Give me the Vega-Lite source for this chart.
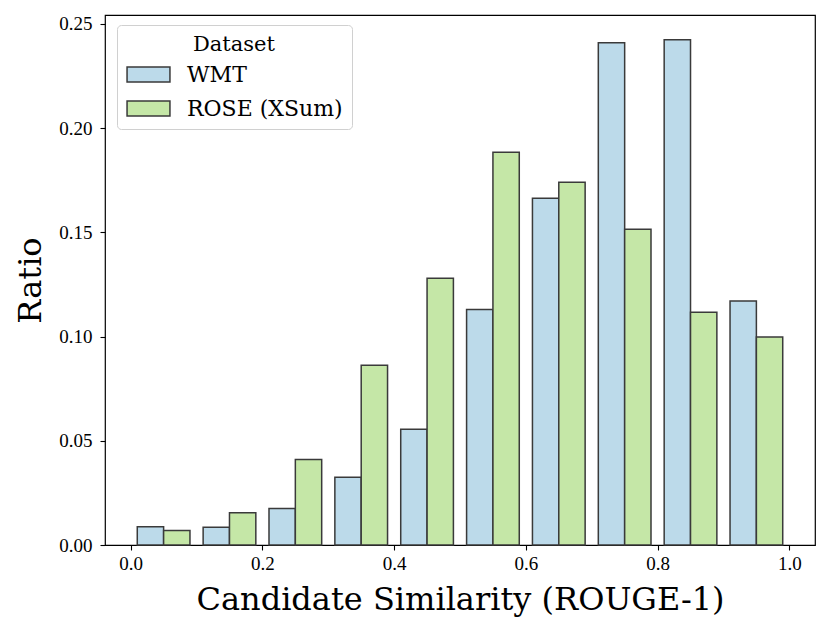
{
  "$schema": "https://vega.github.io/schema/vega-lite/v6.json",
  "width": 710,
  "height": 530,
  "autosize": "none",
  "padding": {"left": 105, "top": 15, "right": 16, "bottom": 88},
  "background": "white",
  "config": {
    "font": "DejaVu Serif",
    "view": {"stroke": "black", "strokeWidth": 1.2},
    "axis": {
      "grid": false,
      "domain": false,
      "tickColor": "black",
      "tickSize": 5,
      "tickWidth": 1.1,
      "labelColor": "black",
      "labelFont": "Liberation Serif",
      "labelFontSize": 19,
      "titleFont": "DejaVu Serif",
      "titleFontSize": 32,
      "titleFontWeight": "normal",
      "titleColor": "black"
    }
  },
  "data": {
    "values": [
      {"bin": 0.0, "dataset": "WMT", "ratio": 0.0088},
      {"bin": 0.0, "dataset": "ROSE (XSum)", "ratio": 0.0070},
      {"bin": 0.1, "dataset": "WMT", "ratio": 0.0085},
      {"bin": 0.1, "dataset": "ROSE (XSum)", "ratio": 0.0155},
      {"bin": 0.2, "dataset": "WMT", "ratio": 0.0175},
      {"bin": 0.2, "dataset": "ROSE (XSum)", "ratio": 0.0410},
      {"bin": 0.3, "dataset": "WMT", "ratio": 0.0325},
      {"bin": 0.3, "dataset": "ROSE (XSum)", "ratio": 0.0862},
      {"bin": 0.4, "dataset": "WMT", "ratio": 0.0555},
      {"bin": 0.4, "dataset": "ROSE (XSum)", "ratio": 0.1280},
      {"bin": 0.5, "dataset": "WMT", "ratio": 0.1130},
      {"bin": 0.5, "dataset": "ROSE (XSum)", "ratio": 0.1884},
      {"bin": 0.6, "dataset": "WMT", "ratio": 0.1664},
      {"bin": 0.6, "dataset": "ROSE (XSum)", "ratio": 0.1740},
      {"bin": 0.7, "dataset": "WMT", "ratio": 0.2410},
      {"bin": 0.7, "dataset": "ROSE (XSum)", "ratio": 0.1515},
      {"bin": 0.8, "dataset": "WMT", "ratio": 0.2424},
      {"bin": 0.8, "dataset": "ROSE (XSum)", "ratio": 0.1117},
      {"bin": 0.9, "dataset": "WMT", "ratio": 0.1171},
      {"bin": 0.9, "dataset": "ROSE (XSum)", "ratio": 0.0998}
    ]
  },
  "transform": [
    {"calculate": "datum.bin + (datum.dataset == 'WMT' ? 0.01 : 0.05)", "as": "left"},
    {"calculate": "datum.left + 0.04", "as": "right"}
  ],
  "mark": {"type": "bar", "stroke": "#3a3a3a", "strokeWidth": 1.5},
  "encoding": {
    "x": {
      "field": "left",
      "type": "quantitative",
      "title": "Candidate Similarity (ROUGE-1)",
      "scale": {"domain": [-0.039, 1.039], "nice": false, "zero": false},
      "axis": {"values": [0, 0.2, 0.4, 0.6, 0.8, 1.0], "format": ".1f", "labelPadding": 4, "titlePadding": 11}
    },
    "x2": {"field": "right"},
    "y": {
      "field": "ratio",
      "type": "quantitative",
      "title": "Ratio",
      "scale": {"domain": [0, 0.2543], "nice": false},
      "axis": {"values": [0, 0.05, 0.1, 0.15, 0.2, 0.25], "format": ".2f", "labelPadding": 8, "titlePadding": 11}
    },
    "y2": {"datum": 0},
    "color": {
      "field": "dataset",
      "type": "nominal",
      "sort": ["WMT", "ROSE (XSum)"],
      "scale": {"domain": ["WMT", "ROSE (XSum)"], "range": ["#bcdaea", "#c5e7a7"]},
      "legend": {
        "title": "Dataset",
        "orient": "none",
        "legendX": 12,
        "legendY": 10,
        "titleFont": "DejaVu Serif",
        "titleFontSize": 21,
        "titleFontWeight": "normal",
        "titleColor": "black",
        "titleAnchor": "middle",
        "titlePadding": 8,
        "labelFont": "DejaVu Serif",
        "labelFontSize": 22,
        "labelColor": "black",
        "labelOffset": 27,
        "symbolType": "M-2,-0.7h4v1.4h-4z",
        "symbolSize": 460,
        "symbolOffset": 11,
        "symbolStrokeColor": "#3a3a3a",
        "symbolStrokeWidth": 1.5,
        "symbolOpacity": 1,
        "rowPadding": 11,
        "padding": 9,
        "fillColor": "white",
        "strokeColor": "#d0d0d0",
        "cornerRadius": 4
      }
    }
  }
}
